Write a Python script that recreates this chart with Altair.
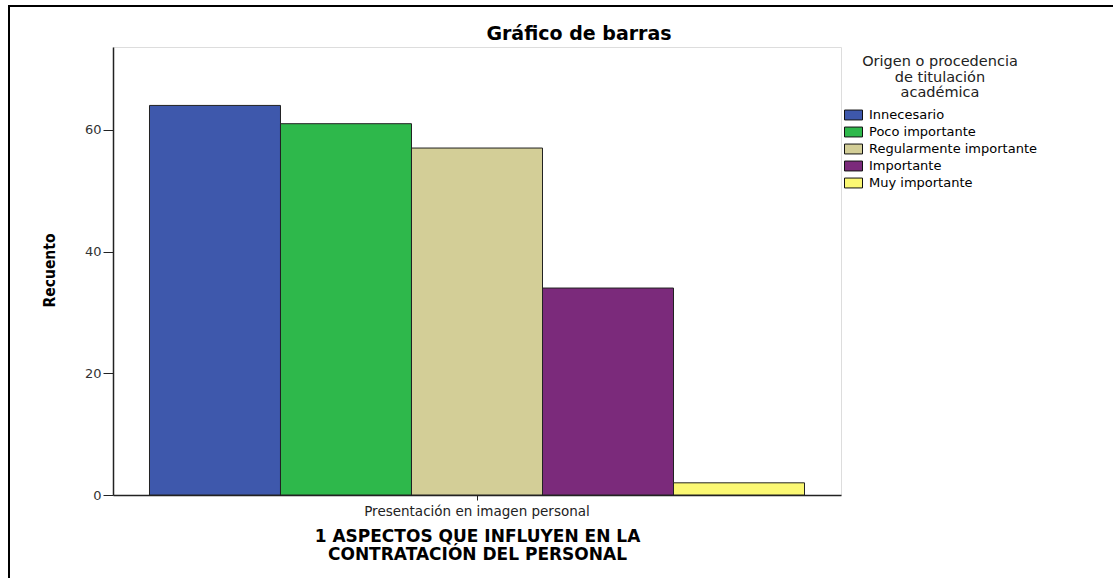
import altair as alt
import pandas as pd

# Counts per response option for the single aspect shown
aspecto = ["Presentación en imagen personal"] * 5
categorias = ["Innecesario", "Poco importante", "Regularmente importante",
              "Importante", "Muy importante"]
recuento = [64, 61, 57, 34, 2]
colores = ["#3e58ac", "#2eb84b", "#d3ce97", "#7b2a7b", "#fbf873"]
titulo = ["Gráfico de barras"]

df = pd.DataFrame({"aspecto": aspecto, "origen": categorias, "recuento": recuento})

W, H = 728, 448
LEFT, TOP = 113, 47
FONT = "DejaVu Sans"

bars = alt.Chart(df).mark_bar(stroke="#222222", strokeWidth=1, opacity=1).encode(
    x=alt.X(
        "aspecto:N",
        scale=alt.Scale(paddingInner=0, paddingOuter=0.0557),
        axis=alt.Axis(
            title=["1 ASPECTOS QUE INFLUYEN EN LA", "CONTRATACIÓN DEL PERSONAL"],
            titleFont=FONT, titleFontSize=17, titleFontWeight="bold",
            titleColor="#000000", titleLineHeight=18, titlePadding=11,
            labelAngle=0, labelFont=FONT, labelFontSize=13.5, labelLimit=0,
            labelColor="#222222", labelPadding=4,
            tickSize=5, tickColor="#222222", domainColor="#222222", domainWidth=1.5,
        ),
    ),
    xOffset=alt.XOffset(
        "origen:N", sort=categorias,
        scale=alt.Scale(paddingInner=0, paddingOuter=0),
    ),
    y=alt.Y(
        "recuento:Q",
        scale=alt.Scale(domain=[0, 73.6], nice=False),
        axis=alt.Axis(
            values=[0, 20, 40, 60], title="Recuento", grid=False,
            titleFont="DejaVu Sans Condensed, Liberation Sans Narrow, DejaVu Sans",
            titleFontSize=15.5, titleFontWeight="bold", titleColor="#000000",
            titleAngle=-90, titleX=-64, titleY=223, titleAlign="center",
            titleBaseline="middle",
            labelFont=FONT, labelFontSize=13, labelColor="#333333",
            labelPadding=2, tickSize=10, tickColor="#222222",
            domainColor="#222222", domainWidth=1.5,
        ),
    ),
    color=alt.Color(
        "origen:N", sort=categorias,
        scale=alt.Scale(domain=categorias, range=colores),
        legend=alt.Legend(
            title=["Origen o procedencia", "de titulación", "académica"],
            orient="none", legendX=731, legendY=8,
            titleFont=FONT, titleFontSize=14.5, titleFontWeight="normal",
            titleColor="#222222", titleLineHeight=15.5, titleAnchor="middle",
            titleAlign="center", titlePadding=5, titleLimit=0,
            labelFont=FONT, labelFontSize=13, labelColor="#000000",
            labelOffset=6, labelLimit=0,
            symbolType="M-1,-0.55H1V0.55H-1Z", symbolSize=324,
            symbolStrokeColor="#111111", symbolStrokeWidth=1, symbolOpacity=1,
            rowPadding=-4.5,
        ),
    ),
)

# Chart heading, centred over the whole figure
heading = alt.Chart(pd.DataFrame({"t": titulo})).mark_text(
    font=FONT, fontSize=19, fontWeight="bold", color="#000000",
    align="center", baseline="alphabetic",
).encode(text="t:N", x=alt.value(466), y=alt.value(-7))

# Outer frame around the whole figure
frame = alt.Chart(df).mark_rect(fill=None, stroke="#000000", strokeWidth=2, clip=False).encode(
    x=alt.value(9 - LEFT), x2=alt.value(1300),
    y=alt.value(6 - TOP), y2=alt.value(800),
)

chart = alt.layer(bars, heading, frame).properties(
    width=W, height=H,
    autosize=alt.AutoSizeParams(type="none"),
    padding={"left": LEFT, "top": TOP, "right": 1113 - LEFT - W, "bottom": 578 - TOP - H},
).configure_view(
    fill="#efefef", stroke="#444444", strokeWidth=1.5,
).configure(background="#ffffff")

chart.save("out.html", embed_options={"renderer": "svg", "actions": False})
